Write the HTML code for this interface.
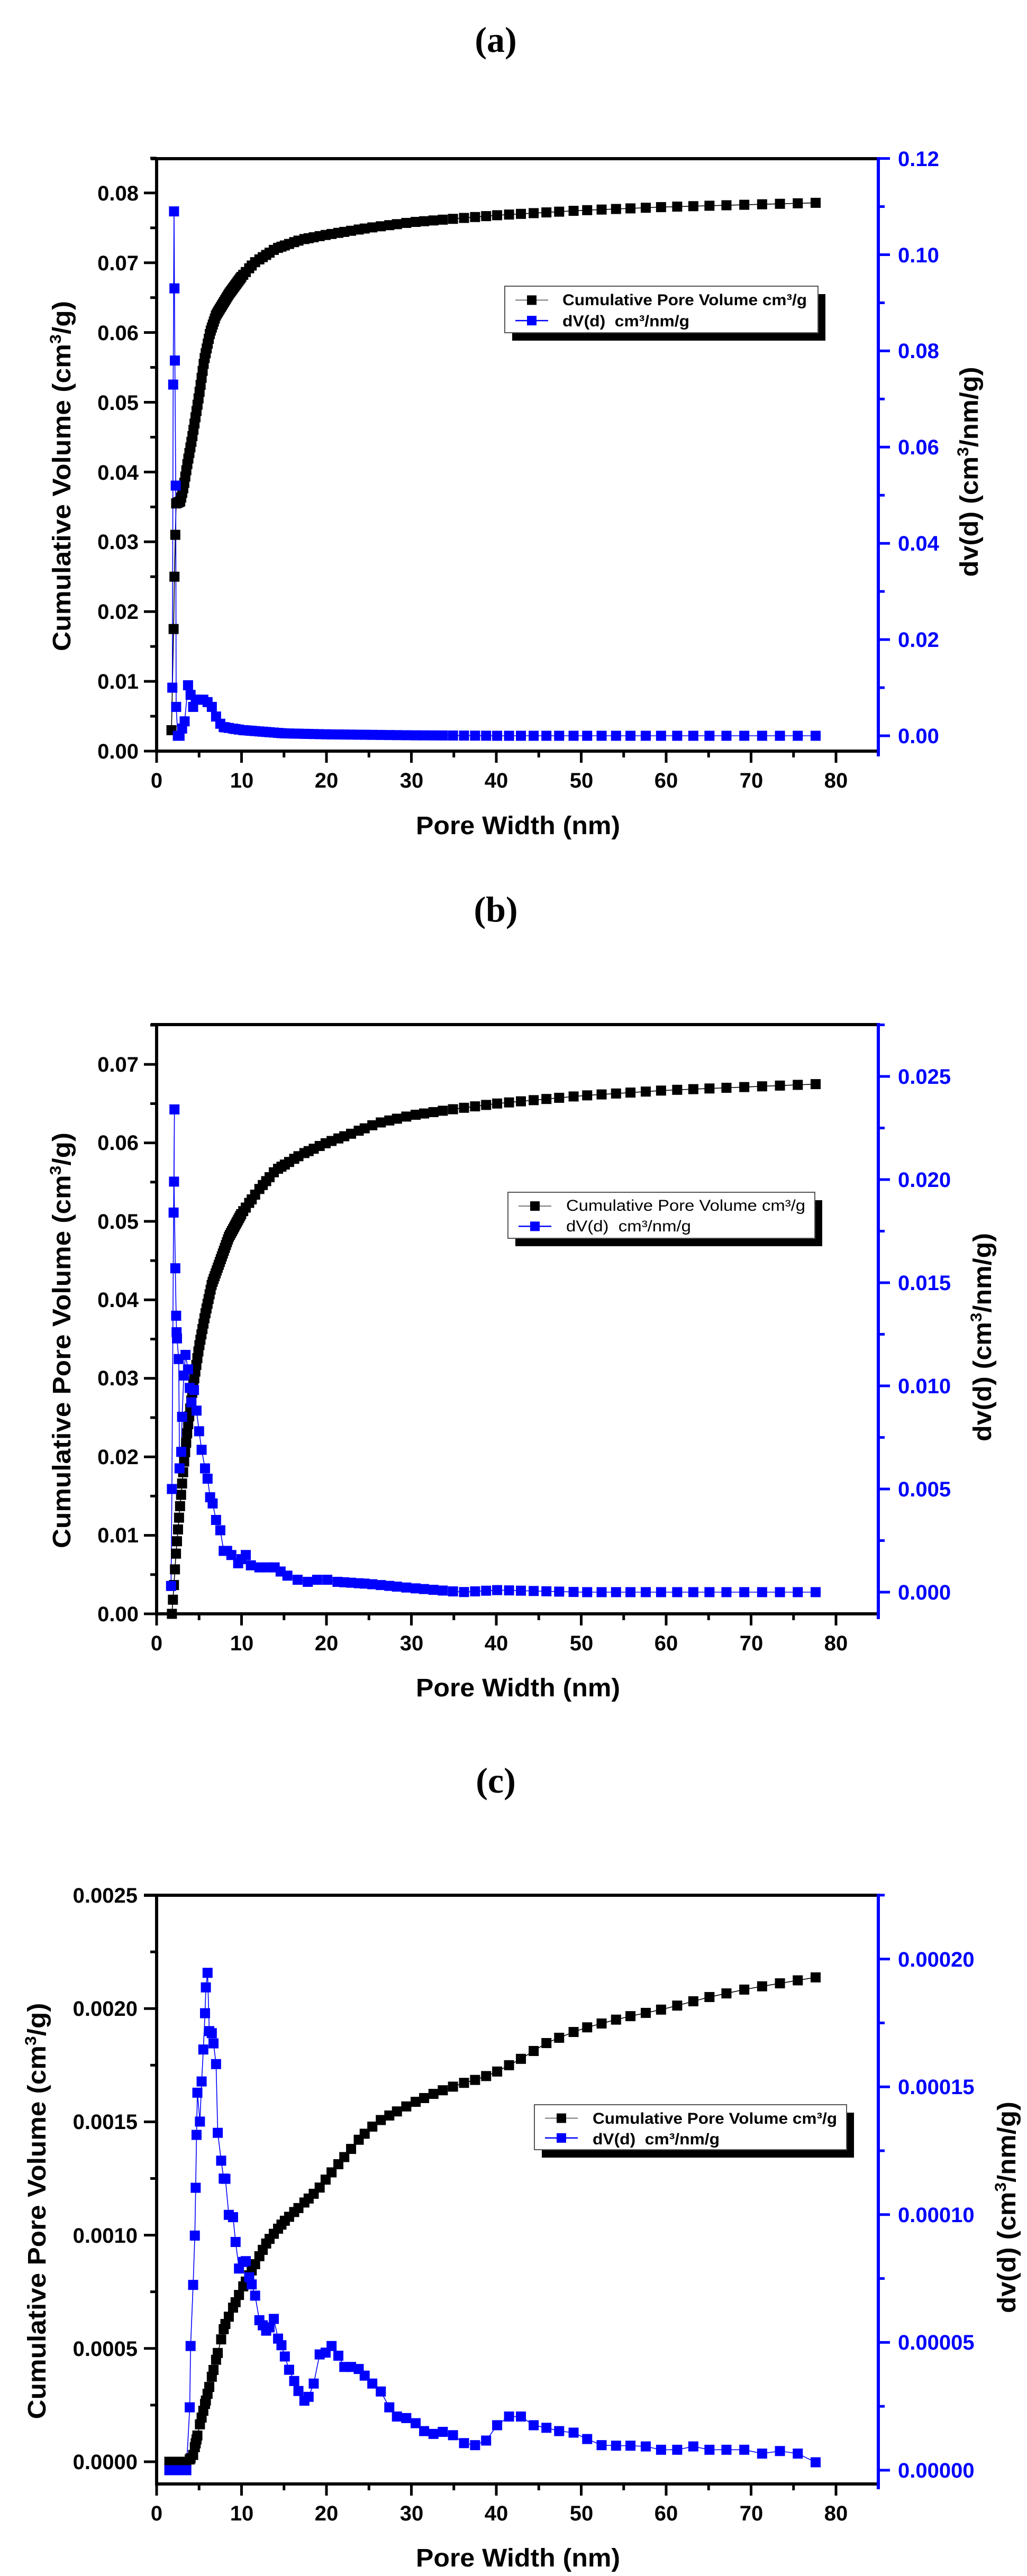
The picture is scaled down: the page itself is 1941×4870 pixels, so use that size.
<!DOCTYPE html>
<html><head><meta charset="utf-8"><style>
html,body{margin:0;padding:0;background:#fff}
svg{display:block}
text{font-family:"Liberation Sans",Arial,sans-serif}
.t{font-family:"Liberation Serif",serif;font-weight:bold;font-size:68px}
.tk{font-weight:bold;font-size:40px}
.al{font-weight:bold;font-size:48px}
.lg{font-weight:bold;font-size:30px}
.lgn{font-size:30px}
</style></head><body>
<svg id="s" width="1941" height="4870" viewBox="0 0 1941 4870" xmlns="http://www.w3.org/2000/svg">
<rect width="1941" height="4870" fill="#fff"/>
<g id="plots"></g>
<!-- Panel a -->
<text class="t" x="937" y="98" text-anchor="middle">(a)</text>
<g class="tk" text-anchor="end">
<text x="262" y="1434">0.00</text><text x="262" y="1302">0.01</text><text x="262" y="1170">0.02</text><text x="262" y="1038">0.03</text><text x="262" y="907">0.04</text><text x="262" y="775">0.05</text><text x="262" y="643">0.06</text><text x="262" y="511">0.07</text><text x="262" y="379">0.08</text>
</g>
<g class="tk" fill="#0000ff">
<text x="1697" y="1405">0.00</text><text x="1697" y="1223">0.02</text><text x="1697" y="1041">0.04</text><text x="1697" y="859">0.06</text><text x="1697" y="677">0.08</text><text x="1697" y="496">0.10</text><text x="1697" y="314">0.12</text>
</g>
<g class="tk" text-anchor="middle">
<text x="296" y="1489">0</text><text x="457" y="1489">10</text><text x="617" y="1489">20</text><text x="778" y="1489">30</text><text x="938" y="1489">40</text><text x="1099" y="1489">50</text><text x="1259" y="1489">60</text><text x="1420" y="1489">70</text><text x="1580" y="1489">80</text>
</g>
<text class="al" x="979" y="1577" text-anchor="middle" textLength="386" lengthAdjust="spacingAndGlyphs">Pore Width (nm)</text>
<text class="al" transform="translate(133,900) rotate(-90)" text-anchor="middle" textLength="662" lengthAdjust="spacingAndGlyphs">Cumulative Volume (cm<tspan dy="-18" font-size="30">3</tspan><tspan dy="18">/g)</tspan></text>
<text class="al" transform="translate(1848,892) rotate(-90)" text-anchor="middle" textLength="397" lengthAdjust="spacingAndGlyphs">dv(d) (cm<tspan dy="-18" font-size="30">3</tspan><tspan dy="18">/nm/g)</tspan></text>
<text class="lg" x="1063" y="577" textLength="462" lengthAdjust="spacingAndGlyphs">Cumulative Pore Volume cm³/g</text>
<text class="lg" x="1063" y="617" textLength="240" lengthAdjust="spacingAndGlyphs">dV(d)&#160; cm³/nm/g</text>

<!-- Panel b -->
<text class="t" x="937" y="1742" text-anchor="middle">(b)</text>
<g class="tk" text-anchor="end">
<text x="262" y="3065">0.00</text><text x="262" y="2916">0.01</text><text x="262" y="2768">0.02</text><text x="262" y="2619">0.03</text><text x="262" y="2471">0.04</text><text x="262" y="2323">0.05</text><text x="262" y="2174">0.06</text><text x="262" y="2026">0.07</text>
</g>
<g class="tk" fill="#0000ff">
<text x="1697" y="3024">0.000</text><text x="1697" y="2829">0.005</text><text x="1697" y="2634">0.010</text><text x="1697" y="2439">0.015</text><text x="1697" y="2244">0.020</text><text x="1697" y="2049">0.025</text>
</g>
<g class="tk" text-anchor="middle">
<text x="296" y="3120">0</text><text x="457" y="3120">10</text><text x="617" y="3120">20</text><text x="778" y="3120">30</text><text x="938" y="3120">40</text><text x="1099" y="3120">50</text><text x="1259" y="3120">60</text><text x="1420" y="3120">70</text><text x="1580" y="3120">80</text>
</g>
<text class="al" x="979" y="3207" text-anchor="middle" textLength="386" lengthAdjust="spacingAndGlyphs">Pore Width (nm)</text>
<text class="al" transform="translate(133,2534) rotate(-90)" text-anchor="middle" textLength="786" lengthAdjust="spacingAndGlyphs">Cumulative Pore Volume (cm<tspan dy="-18" font-size="30">3</tspan><tspan dy="18">/g)</tspan></text>
<text class="al" transform="translate(1873,2528) rotate(-90)" text-anchor="middle" textLength="394" lengthAdjust="spacingAndGlyphs">dv(d) (cm<tspan dy="-18" font-size="30">3</tspan><tspan dy="18">/nm/g)</tspan></text>
<text class="lgn" x="1070" y="2289" textLength="452" lengthAdjust="spacingAndGlyphs">Cumulative Pore Volume cm³/g</text>
<text class="lgn" x="1070" y="2328" textLength="236" lengthAdjust="spacingAndGlyphs">dV(d)&#160; cm³/nm/g</text>

<!-- Panel c -->
<text class="t" x="937" y="3389" text-anchor="middle">(c)</text>
<g class="tk" text-anchor="end">
<text x="260" y="4668">0.0000</text><text x="260" y="4454">0.0005</text><text x="260" y="4240">0.0010</text><text x="260" y="4025">0.0015</text><text x="260" y="3811">0.0020</text><text x="260" y="3597">0.0025</text>
</g>
<g class="tk" fill="#0000ff">
<text x="1697" y="4684">0.00000</text><text x="1697" y="4442">0.00005</text><text x="1697" y="4201">0.00010</text><text x="1697" y="3959">0.00015</text><text x="1697" y="3718">0.00020</text>
</g>
<g class="tk" text-anchor="middle">
<text x="296" y="4765">0</text><text x="457" y="4765">10</text><text x="617" y="4765">20</text><text x="778" y="4765">30</text><text x="938" y="4765">40</text><text x="1099" y="4765">50</text><text x="1259" y="4765">60</text><text x="1420" y="4765">70</text><text x="1580" y="4765">80</text>
</g>
<text class="al" x="979" y="4852" text-anchor="middle" textLength="386" lengthAdjust="spacingAndGlyphs">Pore Width (nm)</text>
<text class="al" transform="translate(86,4180) rotate(-90)" text-anchor="middle" textLength="787" lengthAdjust="spacingAndGlyphs">Cumulative Pore Volume (cm<tspan dy="-18" font-size="30">3</tspan><tspan dy="18">/g)</tspan></text>
<text class="al" transform="translate(1919,4173) rotate(-90)" text-anchor="middle" textLength="400" lengthAdjust="spacingAndGlyphs">dv(d) (cm<tspan dy="-18" font-size="30">3</tspan><tspan dy="18">/nm/g)</tspan></text>
<text class="lg" x="1120" y="4015" textLength="462" lengthAdjust="spacingAndGlyphs">Cumulative Pore Volume cm³/g</text>
<text class="lg" x="1120" y="4054" textLength="240" lengthAdjust="spacingAndGlyphs">dV(d)&#160; cm³/nm/g</text>
</svg>
<script>
(function(){
var NS="http://www.w3.org/2000/svg",g=document.getElementById("plots");
function el(n,a){var e=document.createElementNS(NS,n);for(var k in a)e.setAttribute(k,a[k]);g.appendChild(e);return e;}
function line(x1,y1,x2,y2,c,w){el("line",{x1:x1,y1:y1,x2:x2,y2:y2,stroke:c,"stroke-width":w});}
function interp(K,x){if(x<=K[0][0])return K[0][1];for(var i=1;i<K.length;i++){if(x<=K[i][0]){var a=K[i-1],b=K[i];return a[1]+(b[1]-a[1])*(x-a[0])/(b[0]-a[0]);}}return K[K.length-1][1];}
var CX=[1.5,1.9,2.3,2.7,3.1,3.5,3.9,4.0,4.3,4.5,4.6,4.7,4.8,5.1,5.3,5.5,5.7,5.8,6.0,6.2,6.5,6.7,7.0,7.2,7.6,7.9,8.1,8.5,9.0,9.3,9.7,10.2,10.5,10.9,11.2,11.6,12.1,12.5,12.9,13.3,13.8,14.3,14.7,15.1,15.6,16.2,16.7,17.4,17.9,18.5,19.2,19.9,20.6,21.4,22.1,22.9,23.8,24.5,25.4,26.4,27.4,28.3,29.4,30.5,31.5,32.6,33.7,34.9,36.2,37.5,38.8,40.1,41.5,42.9,44.4,45.9,47.4,49.1,50.7,52.4,54.1,55.8,57.6,59.4,61.3,63.2,65.1,67.1,69.2,71.3,73.4,75.5,77.6];
function panel(P){
  var X=function(x){return P.L+x*16.05;};
  [P.blk,P.blu].forEach(function(S,si){
    var col=si?"#0000ff":"#000",yf=si?P.ry:P.ly;
    var pts=S.map(function(p){return [X(p[0]),yf(p[1])];});
    el("polyline",{points:pts.map(function(p){return p.join(",");}).join(" "),fill:"none",stroke:col,"stroke-width":1.6});
  });
  [P.blk,P.blu].forEach(function(S,si){
    var col=si?"#0000ff":"#000",yf=si?P.ry:P.ly;
    S.forEach(function(p){el("rect",{x:X(p[0])-9.5,y:yf(p[1])-9.5,width:19,height:19,fill:col});});
  });
  line(P.topStart,P.T,P.R,P.T,"#000",6);
  line(P.L,P.T-3,P.L,P.B+3,"#000",6);
  line(P.L,P.B,P.R,P.B,"#000",6);
  line(P.R,P.T-3,P.R,P.B+10,"#0000ff",6);
  for(var i=0;i<=16;i++){var x=X(i*5);line(x,P.B,x,P.B+(i%2?12:22),"#000",5);}
  P.lt.forEach(function(v,i){var y=P.ly(v);line(P.L-(i%2?12:24),y,P.L,y,"#000",5);});
  P.rt.forEach(function(v,i){var y=P.ry(v);line(P.R,y,P.R+(i%2?12:22),y,"#0000ff",5);});
  var lg=P.lg;
  el("rect",{x:lg[0]+14,y:lg[1]+15,width:lg[2]-lg[0],height:lg[3]-lg[1],fill:"#000"});
  el("rect",{x:lg[0],y:lg[1],width:lg[2]-lg[0],height:lg[3]-lg[1],fill:"#fff",stroke:"#555","stroke-width":2});
  var r1=lg[1]+(lg[3]-lg[1])*0.3,r2=lg[1]+(lg[3]-lg[1])*0.74,lx=lg[0]+20;
  line(lx,r1,lx+62,r1,"#777",2);el("rect",{x:lx+22,y:r1-9,width:18,height:18,fill:"#000"});
  line(lx,r2,lx+62,r2,"#0000ff",2.5);el("rect",{x:lx+22,y:r2-9,width:18,height:18,fill:"#0000ff"});
}
function fine(a,b,st){var r=[];for(var x=a;x<=b+1e-9;x+=st)r.push(x);return r;}
function mk(xs,K){return xs.map(function(x){return [x,interp(K,x)];});}
function range(a,b,s){var r=[];for(var v=a;v<=b+1e-12;v+=s)r.push(v);return r;}
var KA=[[2.3,0.0355],[2.8,0.0358],[3.2,0.038],[3.6,0.041],[4.2,0.045],[5,0.051],[5.6,0.056],[6.3,0.060],[7,0.0625],[8.5,0.0655],[10,0.068],[11.5,0.070],[14,0.072],[17,0.0733],[20,0.074],[25,0.075],[30,0.0758],[35,0.0763],[40,0.0768],[50,0.0775],[60,0.078],[78,0.0786]];
var xa=fine(2.3,10,0.12).concat(CX.filter(function(x){return x>10;}));
var blkA=[[1.75,0.003],[2.0,0.0175],[2.1,0.025],[2.2,0.031]].concat(mk(xa,KA));
var bluA=[[1.85,0.010],[1.95,0.073],[2.05,0.109],[2.1,0.093],[2.15,0.078],[2.25,0.052],[2.3,0.006],[2.5,0.0],[2.7,0.0],[3.0,0.0015],[3.3,0.003],[3.7,0.0105],[4.0,0.0085],[4.3,0.006],[4.6,0.0075],[5.0,0.0075],[5.5,0.0075],[6.0,0.007],[6.5,0.006],[7.0,0.004],[7.5,0.0025]].concat(mk(CX.filter(function(x){return x>=7.9;}),[[7.9,0.0018],[10,0.0012],[15,0.0005],[20,0.0003],[30,0.0001],[40,0],[78,0]]));
panel({L:296,R:1660,T:300,B:1420,topStart:285,
 ly:function(v){return 1420-v/0.01*131.9;},ry:function(v){return 1391-v/0.02*181.9;},
 lt:range(0,0.085,0.005),rt:range(0,0.12,0.01),blk:blkA,blu:bluA,lg:[954,541,1546,629]});
var KB=[[1.8,0],[2.0,0.003],[2.3,0.008],[2.7,0.013],[3.2,0.019],[3.7,0.024],[4.3,0.029],[5,0.034],[5.7,0.038],[6.5,0.042],[7.5,0.045],[8.5,0.048],[10,0.051],[12,0.054],[14,0.0565],[17,0.0585],[20,0.0600],[23,0.0612],[26,0.0625],[30,0.0635],[35,0.0643],[40,0.065],[50,0.066],[60,0.0667],[78,0.0675]];
var xb=fine(1.8,10,0.12).concat(CX.filter(function(x){return x>10;}));
var bluB=[[1.7,0.0003],[1.8,0.005],[2.0,0.0184],[2.1,0.0234],[2.05,0.0199],[2.2,0.0157],[2.3,0.0134],[2.35,0.0126],[2.4,0.0123],[2.6,0.0113],[2.7,0.006],[2.9,0.0068],[3.0,0.0085],[3.2,0.0105],[3.4,0.0115],[3.7,0.0108],[3.9,0.0099],[4.1,0.0092],[4.4,0.0098],[4.7,0.0088],[5.0,0.0078],[5.3,0.0069],[5.7,0.006],[6.0,0.0055],[6.3,0.0046],[6.6,0.0043],[7.0,0.0035],[7.5,0.003],[7.9,0.002],[8.3,0.002],[8.8,0.0018],[9.6,0.0014],[10.0,0.0016],[10.5,0.0018],[11.1,0.0013],[12.1,0.0012],[13.1,0.0012],[13.9,0.0012],[14.6,0.001],[15.4,0.0008],[16.6,0.0006],[17.8,0.0005],[18.9,0.0006],[20.1,0.0006],[21.3,0.0005]].concat(mk(CX.filter(function(x){return x>21.5;}),[[21.3,0.0005],[25,0.0004],[30,0.0002],[36,0.0],[40,0.0001],[50,0.0],[78,0]]));
panel({L:296,R:1660,T:1937,B:3051,topStart:285,
 ly:function(v){return 3051-v/0.01*148.4;},ry:function(v){return 3010-v/0.005*195;},
 lt:range(0,0.075,0.005),rt:range(0,0.0275,0.0025),blk:mk(xb,KB),blu:bluB,lg:[960,2254,1540,2341]});
var KC=[[1.5,0],[3.7,0],[4.3,0.00003],[5,0.00015],[6,0.0003],[7,0.00045],[8,0.0006],[9,0.00068],[10,0.00076],[11,0.00083],[12,0.0009],[13,0.00097],[15,0.00106],[17,0.00113],[19,0.0012],[20,0.00125],[22,0.00134],[24,0.00143],[26,0.0015],[28,0.00154],[30,0.00158],[33,0.00163],[36,0.00167],[38,0.00169],[40,0.00172],[43,0.00178],[46,0.00185],[50,0.00191],[55,0.00196],[60,0.002],[65,0.00205],[70,0.00209],[78,0.00214]];
var CV=[0,0,0,0,0,0,0.0000246,0.0000486,0.0000725,0.0000918,0.0001105,0.0001312,0.0001477,0.0001364,0.0001521,0.0001646,0.0001788,0.0001889,0.0001946,0.0001718,0.000171,0.000167,0.0001589,0.000132,0.0001211,0.0001141,0.000114,0.0000999,0.000099,0.0000893,0.0000789,0.0000815,0.0000818,0.0000755,0.0000727,0.0000683,0.0000587,0.0000567,0.0000546,0.0000559,0.0000592,0.0000515,0.0000489,0.0000445,0.0000393,0.0000349,0.000031,0.0000272,0.0000287,0.0000339,0.0000453,0.000046,0.0000486,0.0000448,0.0000404,0.0000404,0.0000396,0.000037,0.0000339,0.0000308,0.0000246,0.000021,0.0000204,0.0000184,0.0000153,0.0000142,0.000015,0.0000137,0.0000106,0.0000098,0.0000116,0.0000176,0.000021,0.000021,0.0000176,0.0000166,0.0000153,0.0000147,0.0000122,0.0000098,0.0000096,0.0000096,0.0000093,0.000008,0.000008,0.0000093,0.000008,0.000008,0.000008,0.0000065,0.0000075,0.0000065,0.0000031];
var bluC=CX.map(function(x,i){return [x,CV[i]];});
panel({L:296,R:1660,T:3583,B:4696,topStart:272,
 ly:function(v){return 4654-v/0.0005*214.2;},ry:function(v){return 4670-v/0.00005*241.6;},
 lt:range(0,0.0025,0.00025),rt:range(0,0.000225,0.000025),blk:mk(CX,KC),blu:bluC,lg:[1010,3979,1600,4064]});
})();
</script>
</body></html>
